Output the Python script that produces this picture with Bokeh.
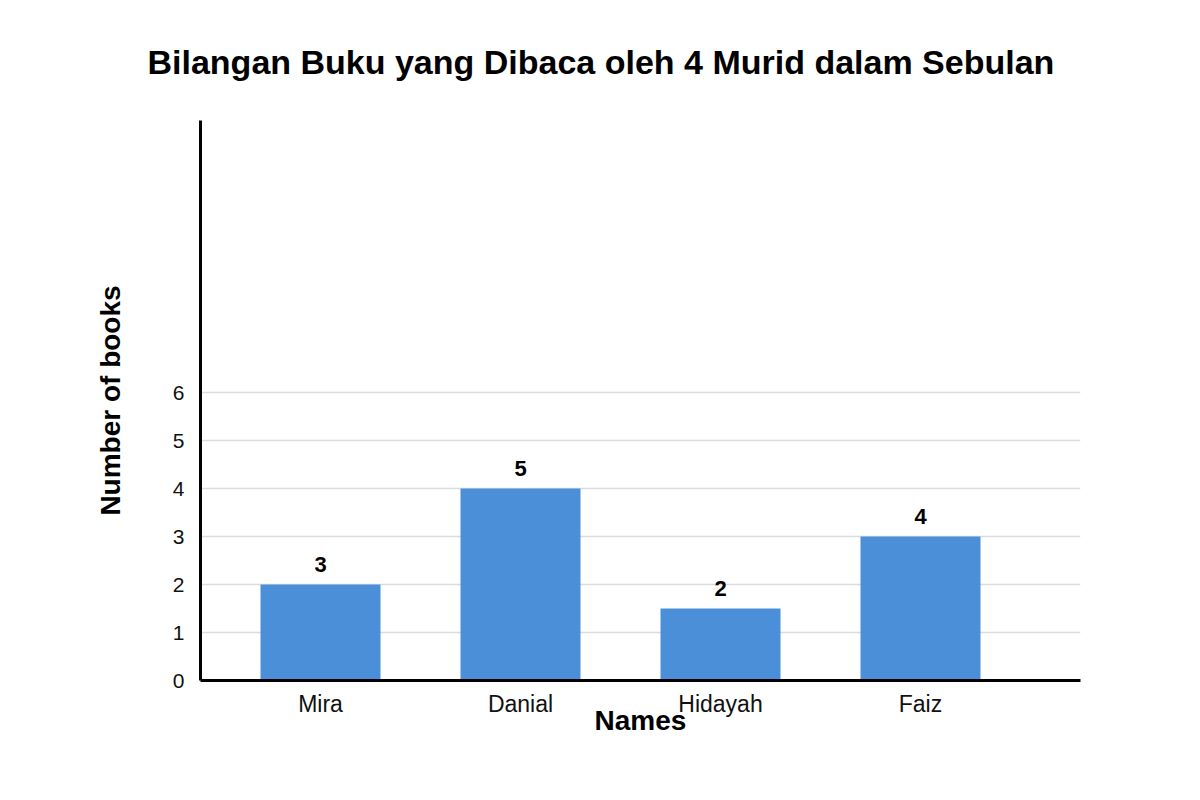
from bokeh.plotting import figure
from bokeh.models import ColumnDataSource, LabelSet, FixedTicker, Range1d
from bokeh.core.properties import value
from bokeh.embed import file_html
from bokeh.resources import INLINE

# ---- data ----
names = ["Mira", "Danial", "Hidayah", "Faiz"]
bar_heights = [2, 4, 1.5, 3]          # drawn bar heights (as in picture)
value_labels = ["3", "5", "2", "4"]   # numbers written above bars
y_ticks = [0, 1, 2, 3, 4, 5, 6]
title_text = "Bilangan Buku yang Dibaca oleh 4 Murid dalam Sebulan"
x_title = "Names"
y_title = "Number of books"

FONT = "Liberation Sans"

x_idx = list(range(len(names)))
x_start, x_end = -0.6, len(names) - 0.2
y_start, y_end = 0, 560 / 48

p = figure(width=1200, height=800, output_backend="svg", toolbar_location=None,
           x_range=Range1d(x_start, x_end), y_range=Range1d(y_start, y_end),
           min_border_left=200, min_border_right=120, min_border_top=120,
           min_border_bottom=120, title=title_text)
p.outline_line_color = None
p.background_fill_color = "white"
p.border_fill_color = "white"

# title
p.title.align = "left"
p.title.offset = -53
p.title.standoff = 79
p.title.text_font = FONT
p.title.text_font_size = "34px"
p.title.text_font_style = "bold"
p.title.text_color = "black"

src = ColumnDataSource(dict(x=x_idx, top=bar_heights, lab=value_labels, name=names))
p.vbar(x="x", top="top", width=0.6, source=src, fill_color="#4a8fd8", line_color=None)

# bar value labels
p.add_layout(LabelSet(x="x", y="top", text="lab", source=src, text_align="center",
                      text_baseline="alphabetic", y_offset=13, text_font=value(FONT),
                      text_font_size=value("22px"), text_font_style="bold",
                      text_color="black"))

# grid
p.xgrid.visible = False
p.ygrid.ticker = FixedTicker(ticks=y_ticks[1:])
p.ygrid.grid_line_color = "#dcdcdc"
p.ygrid.grid_line_width = 1.5

# x axis
p.xaxis.ticker = FixedTicker(ticks=x_idx)
p.xaxis.major_label_overrides = {i: n for i, n in zip(x_idx, names)}
p.xaxis.major_tick_line_color = None
p.xaxis.minor_tick_line_color = None
p.xaxis.major_tick_out = 0
p.xaxis.major_tick_in = 0
p.xaxis.major_label_standoff = 10
p.xaxis.major_label_text_font = FONT
p.xaxis.major_label_text_font_size = "23px"
p.xaxis.major_label_text_color = "#111111"
p.xaxis.axis_line_color = "black"
p.xaxis.axis_line_width = 3
p.xaxis.axis_label = x_title
p.xaxis.axis_label_standoff = -15
p.xaxis.axis_label_text_font = FONT
p.xaxis.axis_label_text_font_size = "28px"
p.xaxis.axis_label_text_font_style = "bold"
p.xaxis.axis_label_text_color = "black"

# y axis
p.yaxis.ticker = FixedTicker(ticks=y_ticks)
p.yaxis.major_tick_line_color = None
p.yaxis.minor_tick_line_color = None
p.yaxis.major_tick_out = 0
p.yaxis.major_tick_in = 0
p.yaxis.major_label_standoff = 16
p.yaxis.major_label_text_font = FONT
p.yaxis.major_label_text_font_size = "21px"
p.yaxis.major_label_text_color = "#111111"
p.yaxis.axis_line_color = "black"
p.yaxis.axis_line_width = 3
p.yaxis.axis_label = y_title
p.yaxis.axis_label_standoff = 44
p.yaxis.axis_label_text_font = FONT
p.yaxis.axis_label_text_font_size = "28px"
p.yaxis.axis_label_text_font_style = "bold"
p.yaxis.axis_label_text_color = "black"

open("out.html", "w").write(file_html(p, INLINE))
